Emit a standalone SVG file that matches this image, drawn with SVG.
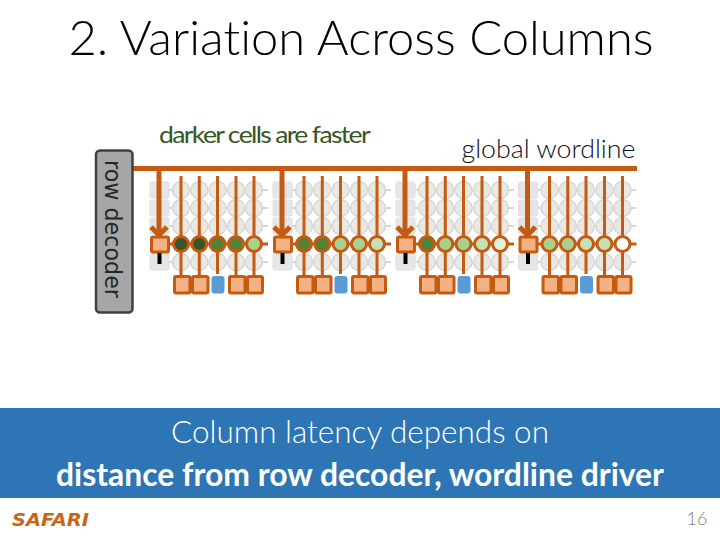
<svg xmlns="http://www.w3.org/2000/svg" width="720" height="540" viewBox="0 0 720 540">
<style>
text{font-variant-ligatures:none}
.t{font-family:Lato,"Open Sans",sans-serif;font-weight:300}
.gc{fill:#e9e8e2;stroke:#d6d6d6;stroke-width:1.500}
.gs{fill:#e6e6e6;stroke:#dedede;stroke-width:1}
.gl{stroke:#d6d6d6;stroke-width:2;fill:none}
.w{stroke:#c55a11;fill:none}
.o{fill:#f4b183;stroke:#c55a11;stroke-width:3}
.c{stroke:#c55a11;stroke-width:3}
.b{fill:#5b9bd5}
</style>
<defs>
<g id="block">
<g class="gl"><path d="M169 190H268M169 208H268M169 226H268M169 262H268"/></g>
<g class="gs"><rect x="150" y="182" width="19" height="16" rx="2"/><rect x="150" y="200" width="19" height="16" rx="2"/><rect x="150" y="218" width="19" height="16" rx="2"/><rect x="150" y="254" width="19" height="16" rx="2"/></g>
<g class="gc"><circle cx="181" cy="190" r="8.500"/><circle cx="199.300" cy="190" r="8.500"/><circle cx="217.500" cy="190" r="8.500"/><circle cx="236" cy="190" r="8.500"/><circle cx="254" cy="190" r="8.500"/><circle cx="181" cy="208" r="8.500"/><circle cx="199.300" cy="208" r="8.500"/><circle cx="217.500" cy="208" r="8.500"/><circle cx="236" cy="208" r="8.500"/><circle cx="254" cy="208" r="8.500"/><circle cx="181" cy="226" r="8.500"/><circle cx="199.300" cy="226" r="8.500"/><circle cx="217.500" cy="226" r="8.500"/><circle cx="236" cy="226" r="8.500"/><circle cx="254" cy="226" r="8.500"/><circle cx="181" cy="262" r="8.500"/><circle cx="199.300" cy="262" r="8.500"/><circle cx="217.500" cy="262" r="8.500"/><circle cx="236" cy="262" r="8.500"/><circle cx="254" cy="262" r="8.500"/></g>
<path class="w" stroke-width="3" d="M181 176V276M199.300 176V276M217.500 176V274M236 176V276M254 176V276M169 244H268"/>
<path class="w" stroke-width="5" d="M159 168V236"/>
<path class="w" stroke-width="5" d="M151 227L159 235L167 227"/>
<rect x="151.500" y="237" width="17" height="15" rx="1.500" class="o"/>
<rect x="157.500" y="253" width="4" height="11" fill="#000"/>
<rect x="174.500" y="276.500" width="15.500" height="16.500" rx="1.500" class="o"/>
<rect x="192.500" y="276.500" width="15.500" height="16.500" rx="1.500" class="o"/>
<rect x="211.500" y="276" width="13" height="17.500" rx="3" class="b"/>
<rect x="229.500" y="276.500" width="15.500" height="16.500" rx="1.500" class="o"/>
<rect x="247.500" y="276.500" width="15" height="16.500" rx="1.500" class="o"/>
</g>
</defs>
<text class="t" x="361" y="55" font-size="48" text-anchor="middle" textLength="585" lengthAdjust="spacingAndGlyphs" fill="#000">2. Variation Across Columns</text>
<text id="darker" x="264" y="143" font-family="Lato,sans-serif" font-size="24" letter-spacing="-1.500" text-anchor="middle" textLength="210" lengthAdjust="spacingAndGlyphs" fill="#375623">darker cells are faster</text>
<text id="gw" x="548.500" y="158" class="t" font-size="25" text-anchor="middle" textLength="174" lengthAdjust="spacingAndGlyphs" fill="#111">global wordline</text>
<g id="connectors"><path class="w" stroke-width="5" d="M132 168.500H637"/></g>
<g id="row-decoder">
<rect x="96" y="150.500" width="36.500" height="162" rx="4" fill="#a6a6a6" stroke="#404040" stroke-width="2.500"/>
<text transform="translate(104.500,160) rotate(90)" font-family="DejaVu Sans,sans-serif" font-size="23" textLength="138" lengthAdjust="spacingAndGlyphs" fill="#262626">row decoder</text>
</g>
<g id="block1"><use href="#block"/>
<g class="c"><circle cx="181" cy="244" r="7.500" fill="#375623"/><circle cx="199.300" cy="244" r="7.500" fill="#375623"/><circle cx="217.500" cy="244" r="7.500" fill="#548235"/><circle cx="236" cy="244" r="7.500" fill="#548235"/><circle cx="254" cy="244" r="7.500" fill="#a9d18e"/></g></g>
<g id="block2" transform="translate(123,0)"><use href="#block"/>
<g class="c"><circle cx="181" cy="244" r="7.500" fill="#548235"/><circle cx="199.300" cy="244" r="7.500" fill="#548235"/><circle cx="217.500" cy="244" r="7.500" fill="#a9d18e"/><circle cx="236" cy="244" r="7.500" fill="#a9d18e"/><circle cx="254" cy="244" r="7.500" fill="#c5e0b4"/></g></g>
<g id="block3" transform="translate(246,0)"><use href="#block"/>
<g class="c"><circle cx="181" cy="244" r="7.500" fill="#548235"/><circle cx="199.300" cy="244" r="7.500" fill="#a9d18e"/><circle cx="217.500" cy="244" r="7.500" fill="#a9d18e"/><circle cx="236" cy="244" r="7.500" fill="#c5e0b4"/><circle cx="254" cy="244" r="7.500" fill="#e2f0d9"/></g></g>
<g id="block4" transform="translate(368.500,0)"><use href="#block"/>
<g class="c"><circle cx="181" cy="244" r="7.500" fill="#a9d18e"/><circle cx="199.300" cy="244" r="7.500" fill="#a9d18e"/><circle cx="217.500" cy="244" r="7.500" fill="#c5e0b4"/><circle cx="236" cy="244" r="7.500" fill="#c5e0b4"/><circle cx="254" cy="244" r="7.500" fill="#fff"/></g></g>
<rect x="0" y="408" width="720" height="90" fill="#2e75b6"/>
<text class="t" x="360" y="443" font-size="32" text-anchor="middle" textLength="378" lengthAdjust="spacingAndGlyphs" fill="#fff">Column latency depends on</text>
<text x="360" y="486" font-family="Lato,sans-serif" font-weight="700" font-size="32" text-anchor="middle" textLength="608" lengthAdjust="spacingAndGlyphs" fill="#fff">distance from row decoder, wordline driver</text>
<text x="12" y="526" font-family="DejaVu Sans,sans-serif" font-weight="700" font-style="italic" font-size="18" textLength="77" lengthAdjust="spacingAndGlyphs" fill="#c8651b">SAFARI</text>
<text x="697" y="525" class="t" font-size="18" text-anchor="middle" fill="#808080">16</text>
</svg>
